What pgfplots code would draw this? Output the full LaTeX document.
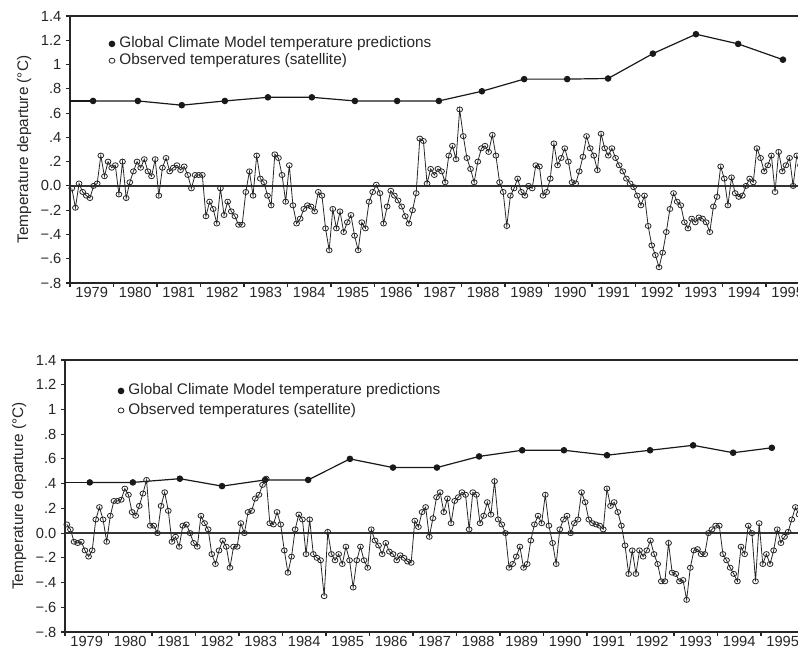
\documentclass[border=0pt]{standalone}
\usepackage{fontspec}
\setmainfont{Liberation Sans}
\usepackage{pgfplots}
\pgfplotsset{compat=1.18}
\begin{document}
\begin{tikzpicture}
\pgfplotsset{
  panel/.style={
    scale only axis, width=554.6pt, height=#1,
    xmin=1979, xmax=1996, ymin=-0.8, ymax=1.4,
    axis line style={line width=1.1pt, black!85},
    every tick/.style={black!85, line width=0.8pt},
    tick align=outside, tick pos=left,
    major tick length=3pt,
    ytick={-0.8,-0.6,-0.4,-0.2,0,0.2,0.4,0.6,0.8,1,1.2,1.4},
    yticklabels={−.8,−.6,−.4,−.2,0.0,.2,.4,.6,.8,1,1.2,1.4},
    xtick={1979,1980,1981,1982,1983,1984,1985,1986,1987,1988,1989,1990,1991,1992,1993,1994,1995,1996},
    xticklabels={},
    extra x ticks={1979.5,1980.5,1981.5,1982.5,1983.5,1984.5,1985.5,1986.5,1987.5,1988.5,1989.5,1990.5,1991.5,1992.5,1993.5,1994.5,1995.5},
    extra x tick labels={1979,1980,1981,1982,1983,1984,1985,1986,1987,1988,1989,1990,1991,1992,1993,1994,1995},
    extra x tick style={major tick length=0pt},
    ticklabel style={font=\fontsize{11}{13}\selectfont, text=black!85},
    ylabel={Temperature departure (°C)},
    ylabel style={font=\fontsize{11.5}{13}\selectfont, text=black!85},
    legend cell align=left,
    legend style={draw=none, fill=none, inner sep=0pt, anchor=north west,
      font=\fontsize{11.5}{13}\selectfont, text=black!85,
      nodes={inner sep=0.6pt, text height=8.6pt, text depth=2.8pt}},
    legend image code/.code={\draw[##1] plot coordinates {(0pt,0pt)};
      \path (-2pt,0pt) (4.5pt,0pt);},
  },
  model/.style={black!90, line width=0.9pt, mark=*, mark size=2pt},
  obs/.style={black!85, line width=0.6pt, mark=o, mark size=1.9pt,
    mark options={fill=white, line width=0.6pt, xscale=1.15}},
}
% ---------------- top panel ----------------
\begin{axis}[panel=200.25pt, at={(52.5pt,-12pt)}, anchor=north west,
  legend style={at={(rel axis cs:0.052,0.928)}, row sep=0pt}]
\addplot[forget plot, black!80, line width=1.1pt] coordinates {(1979,0) (1996,0)};
\addplot[forget plot, black!90, line width=0.9pt] coordinates {(1979,0.70) (1979.53,0.70)};
\addplot[model] coordinates {
(1979.53,0.70) (1980.56,0.70) (1981.57,0.665) (1982.56,0.70) (1983.55,0.73)
(1984.56,0.73) (1985.55,0.70) (1986.52,0.70) (1987.48,0.70) (1988.47,0.78)
(1989.44,0.88) (1990.43,0.88) (1991.37,0.885) (1992.40,1.09) (1993.39,1.25)
(1994.36,1.17) (1995.39,1.04)};
\addlegendentry{Global Climate Model temperature predictions}
\addplot[obs] table[header=false, row sep=\\, x expr={1979+(\coordindex+0.5)/12}, y index=0] {
-0.02\\ -0.18\\ 0.02\\ -0.05\\ -0.08\\ -0.1\\ 0.0\\ 0.02\\ 0.25\\ 0.08\\ 0.2\\ 0.15\\
0.17\\ -0.07\\ 0.2\\ -0.1\\ 0.03\\ 0.12\\ 0.2\\ 0.15\\ 0.22\\ 0.12\\ 0.08\\ 0.22\\
-0.08\\ 0.15\\ 0.23\\ 0.12\\ 0.15\\ 0.17\\ 0.13\\ 0.16\\ 0.09\\ -0.02\\ 0.09\\ 0.09\\
0.09\\ -0.25\\ -0.13\\ -0.19\\ -0.31\\ -0.02\\ -0.24\\ -0.13\\ -0.21\\ -0.25\\ -0.32\\ -0.32\\
-0.05\\ 0.12\\ -0.08\\ 0.25\\ 0.06\\ 0.03\\ -0.08\\ -0.16\\ 0.26\\ 0.23\\ 0.09\\ -0.13\\
0.17\\ -0.16\\ -0.31\\ -0.27\\ -0.19\\ -0.16\\ -0.17\\ -0.21\\ -0.05\\ -0.08\\ -0.35\\ -0.53\\
-0.19\\ -0.35\\ -0.21\\ -0.38\\ -0.3\\ -0.24\\ -0.41\\ -0.53\\ -0.3\\ -0.35\\ -0.13\\ -0.05\\
0.01\\ -0.06\\ -0.31\\ -0.17\\ -0.04\\ -0.08\\ -0.12\\ -0.17\\ -0.25\\ -0.31\\ -0.2\\ -0.06\\
0.39\\ 0.37\\ 0.02\\ 0.14\\ 0.09\\ 0.14\\ 0.12\\ 0.03\\ 0.25\\ 0.33\\ 0.22\\ 0.63\\
0.41\\ 0.23\\ 0.14\\ 0.03\\ 0.2\\ 0.31\\ 0.33\\ 0.28\\ 0.42\\ 0.25\\ 0.03\\ -0.05\\
-0.33\\ -0.08\\ -0.02\\ 0.06\\ -0.05\\ -0.08\\ 0.0\\ -0.02\\ 0.17\\ 0.16\\ -0.08\\ -0.05\\
0.06\\ 0.35\\ 0.17\\ 0.23\\ 0.31\\ 0.2\\ 0.03\\ 0.02\\ 0.12\\ 0.24\\ 0.41\\ 0.31\\
0.25\\ 0.13\\ 0.43\\ 0.31\\ 0.25\\ 0.31\\ 0.23\\ 0.17\\ 0.12\\ 0.06\\ 0.02\\ -0.01\\
-0.08\\ -0.16\\ -0.08\\ -0.33\\ -0.49\\ -0.57\\ -0.67\\ -0.55\\ -0.38\\ -0.19\\ -0.06\\ -0.13\\
-0.16\\ -0.3\\ -0.35\\ -0.27\\ -0.3\\ -0.26\\ -0.27\\ -0.3\\ -0.38\\ -0.17\\ -0.09\\ 0.16\\
0.06\\ -0.16\\ 0.07\\ -0.06\\ -0.09\\ -0.08\\ 0.0\\ 0.06\\ 0.03\\ 0.31\\ 0.23\\ 0.12\\
0.17\\ 0.25\\ -0.05\\ 0.28\\ 0.12\\ 0.17\\ 0.23\\ 0.0\\ 0.25\\ 0.17\\ -0.05\\ 0.1\\
};
\addlegendentry{Observed temperatures (satellite)}
\end{axis}
% ---------------- bottom panel ----------------
\begin{axis}[panel=204pt, at={(48.75pt,-270pt)}, anchor=north west,
  legend style={at={(rel axis cs:0.071,0.918)}, row sep=2pt}]
\addplot[forget plot, black!80, line width=1.1pt] coordinates {(1979,0) (1996,0)};
\addplot[forget plot, black!90, line width=0.9pt] coordinates {(1979,0.41) (1979.57,0.41)};
\addplot[model] coordinates {
(1979.57,0.41) (1980.56,0.41) (1981.64,0.44) (1982.61,0.38) (1983.60,0.43)
(1984.59,0.43) (1985.55,0.60) (1986.54,0.53) (1987.55,0.53) (1988.52,0.62)
(1989.51,0.67) (1990.47,0.67) (1991.46,0.63) (1992.45,0.67) (1993.44,0.71)
(1994.36,0.65) (1995.25,0.69)};
\addlegendentry{Global Climate Model temperature predictions}
\addplot[obs] table[header=false, row sep=\\, x expr={1979+(\coordindex+0.5)/12}, y index=0] {
0.07\\ 0.03\\ -0.07\\ -0.08\\ -0.07\\ -0.14\\ -0.19\\ -0.14\\ 0.11\\ 0.21\\ 0.11\\ -0.07\\
0.14\\ 0.26\\ 0.26\\ 0.27\\ 0.36\\ 0.31\\ 0.17\\ 0.14\\ 0.22\\ 0.32\\ 0.43\\ 0.06\\
0.06\\ 0.0\\ 0.22\\ 0.33\\ 0.18\\ -0.07\\ -0.03\\ -0.11\\ 0.06\\ 0.07\\ 0.0\\ -0.08\\
-0.11\\ 0.14\\ 0.08\\ 0.03\\ -0.17\\ -0.25\\ -0.14\\ -0.06\\ -0.11\\ -0.28\\ -0.11\\ -0.11\\
0.08\\ 0.0\\ 0.17\\ 0.18\\ 0.28\\ 0.31\\ 0.39\\ 0.44\\ 0.08\\ 0.07\\ 0.17\\ 0.07\\
-0.14\\ -0.32\\ -0.19\\ 0.03\\ 0.15\\ 0.11\\ -0.17\\ 0.11\\ -0.17\\ -0.2\\ -0.22\\ -0.51\\
0.01\\ -0.17\\ -0.22\\ -0.17\\ -0.25\\ -0.11\\ -0.22\\ -0.44\\ -0.22\\ -0.11\\ -0.22\\ -0.28\\
0.03\\ -0.06\\ -0.1\\ -0.17\\ -0.08\\ -0.15\\ -0.17\\ -0.22\\ -0.18\\ -0.2\\ -0.23\\ -0.24\\
0.1\\ 0.05\\ 0.17\\ 0.21\\ -0.03\\ 0.12\\ 0.29\\ 0.33\\ 0.17\\ 0.28\\ 0.08\\ 0.26\\
0.29\\ 0.33\\ 0.31\\ 0.03\\ 0.33\\ 0.31\\ 0.08\\ 0.14\\ 0.25\\ 0.15\\ 0.42\\ 0.11\\
0.07\\ 0.0\\ -0.28\\ -0.25\\ -0.19\\ -0.11\\ -0.28\\ -0.25\\ -0.06\\ 0.07\\ 0.14\\ 0.08\\
0.31\\ 0.06\\ -0.08\\ -0.25\\ 0.03\\ 0.11\\ 0.14\\ 0.0\\ 0.08\\ 0.11\\ 0.33\\ 0.25\\
0.11\\ 0.08\\ 0.07\\ 0.06\\ 0.03\\ 0.36\\ 0.22\\ 0.25\\ 0.17\\ 0.06\\ -0.1\\ -0.33\\
-0.14\\ -0.33\\ -0.14\\ -0.19\\ -0.14\\ -0.06\\ -0.17\\ -0.25\\ -0.39\\ -0.39\\ -0.08\\ -0.32\\
-0.33\\ -0.39\\ -0.38\\ -0.54\\ -0.28\\ -0.14\\ -0.13\\ -0.17\\ -0.17\\ 0.0\\ 0.03\\ 0.06\\
0.06\\ -0.17\\ -0.22\\ -0.28\\ -0.33\\ -0.39\\ -0.11\\ -0.17\\ 0.06\\ 0.0\\ -0.39\\ 0.08\\
-0.25\\ -0.17\\ -0.25\\ -0.14\\ 0.03\\ -0.08\\ -0.03\\ 0.01\\ 0.11\\ 0.21\\ 0.15\\ 0.06\\
};
\addlegendentry{Observed temperatures (satellite)}
\end{axis}
\pgfresetboundingbox
\useasboundingbox (0pt,0pt) rectangle (598.5pt,-489pt);
\end{tikzpicture}
\end{document}
